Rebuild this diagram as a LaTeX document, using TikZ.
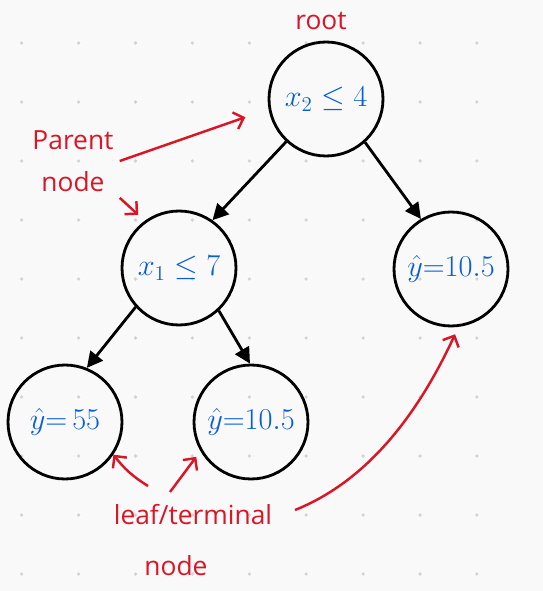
\documentclass[tikz,border=0pt]{standalone}
\usepackage{fontspec}
\setsansfont{Open Sans}
\usepackage{amsmath,amssymb}
\usetikzlibrary{arrows.meta,positioning,calc}
\definecolor{inkred}{RGB}{218,22,38}
\definecolor{inkblue}{RGB}{8,94,212}
\definecolor{paper}{RGB}{249,249,249}
\definecolor{griddot}{RGB}{210,210,210}

\begin{document}
\begin{tikzpicture}[x=0.02cm, y=-0.02cm,
    treenode/.style={draw, circle, line width=1.6pt, minimum size=2.28cm, inner sep=0pt, text=inkblue, font=\fontsize{17}{20}\selectfont},
    redtxt/.style={text=inkred, font=\sffamily\fontsize{15}{24}\selectfont, align=center},
    branch/.style={line width=1.6pt, -{Triangle[length=9pt,width=9pt]}},
    hint/.style={inkred, line width=1.4pt, -{Straight Barb[length=5pt,width=10pt]}}]
          \fill[paper] (0,0) rectangle (543,591);
          \useasboundingbox (0,0) rectangle (543,591);
          
          % dotted grid
          \foreach \i in {0,...,8}
            \foreach \j in {0,...,9}
              \fill[griddot] (21.7+56.9*\i, 43+59*\j) circle (1pt);
          
          % tree
          \node[treenode] (root) at (326,99) {$x_2 \le 4$};
          \node[treenode] (xone) at (179,268) {$x_1 \le 7$};
          \node[treenode] (rightleaf) at (451,269) {$\hat{y}{=}10.5$};
          \node[treenode] (leftleaf) at (65,422) {$\hat{y}{=}\,55$};
          \node[treenode] (midleaf) at (251,422) {$\hat{y}{=}10.5$};
          
          \draw[branch] (root.227) -- (xone.55);
          \draw[branch] (root.312) -- (rightleaf.121);
          \draw[branch] (xone.222) -- (leftleaf.68);
          \draw[branch] (xone.313) -- (midleaf.91);
          
          % Labels
          \node[redtxt] (rootlbl) at (321,21) {root};
          \node[redtxt] (parentlbl) at (73,161) {Parent\\node};
          \node[redtxt] (leaflbl) at (193,515) {leaf/terminal};
          \node[redtxt] (leafnode) at (176,566) {node};
          
          \coordinate (leafA) at (148,486);
          \coordinate (leafB) at (170,492);
          \coordinate (leafC) at (295,510);
          
          \draw[hint, shorten >=14pt] (parentlbl.east) -- (root.190);
          \draw[hint, shorten >=5pt] (parentlbl.south east) -- (xone.126);
          \draw[hint] (leafA) to[bend left=10] (leftleaf.-34);
          \draw[hint, shorten >=4pt] (leafB) -- (midleaf.210);
          \draw[hint] (leafC) .. controls (370,480) and (420,410) .. ($(rightleaf.274)+(0,7)$);
        \end{tikzpicture}
\end{document}
